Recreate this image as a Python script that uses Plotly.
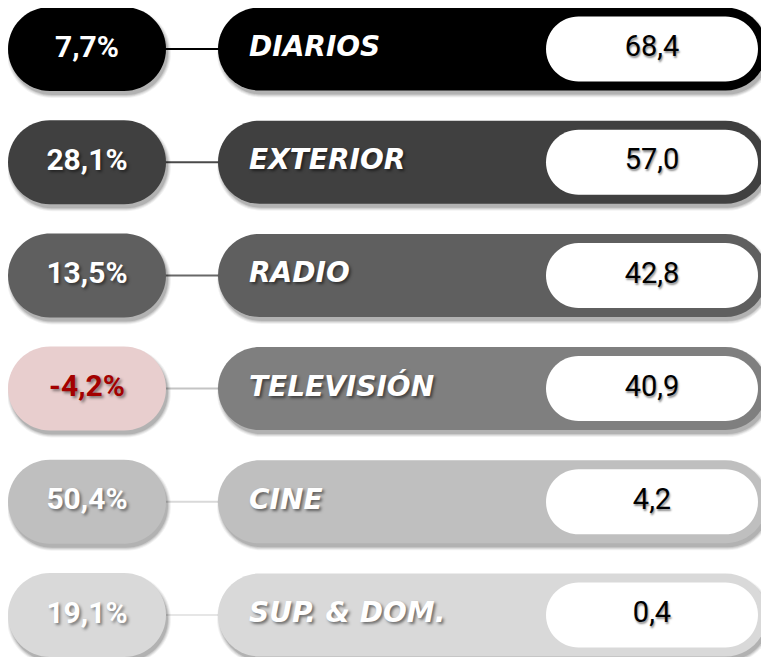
import plotly.graph_objects as go

# ---------------- data ----------------
categories = ["DIARIOS", "EXTERIOR", "RADIO", "TELEVISIÓN", "CINE", "SUP. & DOM."]
values = [68.4, 57.0, 42.8, 40.9, 4.2, 0.4]
changes = [7.7, 28.1, 13.5, -4.2, 50.4, 19.1]

# ---------------- style ----------------
row_colors = ["#000000", "#404040", "#5f5f5f", "#7f7f7f", "#bfbfbf", "#d9d9d9"]
line_colors = ["#000000", "#4a4a4a", "#686868", "#c4c4c4", "#d9d9d9", "#e6e6e6"]
NEG_FILL = "#e8cece"
NEG_TEXT = "#a30000"

W, H = 769, 657
Y0, STEP = 41, 113.2
LEFT_X, LEFT_H = (0, 158), 84
BIG_X, BIG_H = (210, 759), 83
WHITE_X, WHITE_H = (538, 750), 65
LABEL_X = 241


def fmt(v, pct=False):
    s = f"{v:.1f}".replace(".", ",")
    return s + "%" if pct else s


def pill_path(x0, x1, yc, h):
    r = h / 2
    k = 0.5523 * r
    t, b = yc - r, yc + r
    return (f"M {x0+r},{t} L {x1-r},{t} "
            f"C {x1-r+k},{t} {x1},{yc-k} {x1},{yc} "
            f"C {x1},{yc+k} {x1-r+k},{b} {x1-r},{b} "
            f"L {x0+r},{b} "
            f"C {x0+r-k},{b} {x0},{yc+k} {x0},{yc} "
            f"C {x0},{yc-k} {x0+r-k},{t} {x0+r},{t} Z")


def shadowed_pill(shapes, x0, x1, yc, h, color, shadow=True):
    if shadow:
        for e, a in [(3.0, 0.05), (2.0, 0.07), (1.0, 0.09), (0.0, 0.12)]:
            shapes.append(dict(type="path", layer="below",
                               path=pill_path(x0 + 2 - e, x1 + 2 + e, yc + 4, h + 2 * e),
                               fillcolor=f"rgba(0,0,0,{a})", line=dict(width=0)))
    shapes.append(dict(type="path", layer="below", path=pill_path(x0, x1, yc, h),
                       fillcolor=color, line=dict(width=0)))


centers = [Y0 + i * STEP for i in range(len(categories))]
shapes = []
for i, yc in enumerate(centers):
    neg = changes[i] < 0
    shapes.append(dict(type="line", layer="below", x0=LEFT_X[1] - 5, x1=BIG_X[0] + 5,
                       y0=yc, y1=yc, line=dict(color=line_colors[i], width=2)))
    shadowed_pill(shapes, LEFT_X[0], LEFT_X[1], yc, LEFT_H, NEG_FILL if neg else row_colors[i])
    shadowed_pill(shapes, BIG_X[0], BIG_X[1], yc, BIG_H, row_colors[i])
    shadowed_pill(shapes, WHITE_X[0], WHITE_X[1], yc, WHITE_H, "#ffffff", shadow=False)

fig = go.Figure()

# percentage change
fig.add_trace(go.Scatter(
    x=[(LEFT_X[0] + LEFT_X[1]) / 2] * len(changes), y=centers, mode="text",
    text=[fmt(c, True) for c in changes], textposition="middle center",
    textfont=dict(family="Roboto, sans-serif", size=30, weight="bold",
                  color=[NEG_TEXT if c < 0 else "#ffffff" for c in changes],
                  shadow="2px 2px 3px rgba(0,0,0,0.45)"),
    hoverinfo="skip", showlegend=False))

# category labels
fig.add_trace(go.Scatter(
    x=[LABEL_X] * len(categories), y=centers, mode="text",
    text=categories, textposition="middle right",
    textfont=dict(family="DejaVu Sans, sans-serif", size=28, weight="bold", style="italic",
                  color="#ffffff", shadow="2px 2px 3px rgba(0,0,0,0.5)"),
    hoverinfo="skip", showlegend=False))

# values
fig.add_trace(go.Scatter(
    x=[(WHITE_X[0] + WHITE_X[1]) / 2] * len(values), y=centers, mode="text",
    text=[fmt(v) for v in values], textposition="middle center",
    textfont=dict(family="Roboto, sans-serif", size=29,
                  color="#000000", shadow="1px 2px 2px rgba(0,0,0,0.45)"),
    hoverinfo="skip", showlegend=False))

fig.update_layout(
    width=W, height=H, autosize=False,
    margin=dict(l=0, r=0, t=0, b=0),
    paper_bgcolor="#ffffff", plot_bgcolor="#ffffff",
    shapes=shapes,
    xaxis=dict(range=[0, W], visible=False, fixedrange=True),
    yaxis=dict(range=[H, 0], visible=False, fixedrange=True),
    showlegend=False,
)

fig.write_html("out.html")
